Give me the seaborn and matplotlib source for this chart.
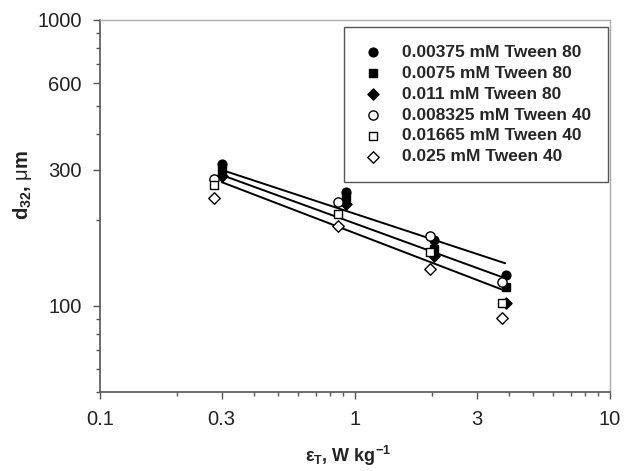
import matplotlib
matplotlib.use('Agg')
import matplotlib.pyplot as plt
import seaborn as sns
import pandas as pd

# energy dissipation rate, W/kg (closed = Tween 80, open = Tween 40)
eps_closed = [0.30, 0.92, 2.04, 3.92]
eps_open = [0.28, 0.86, 1.97, 3.77]

# Sauter mean diameter d32, um
d32_t80_a = [314, 250, 170, 128]   # 0.00375 mM Tween 80
d32_t80_b = [298, 240, 158, 116]   # 0.0075 mM Tween 80
d32_t80_c = [285, 228, 150, 102]   # 0.011 mM Tween 80
d32_t40_a = [277, 231, 175, 121]   # 0.008325 mM Tween 40
d32_t40_b = [265, 209, 154, 102]   # 0.01665 mM Tween 40
d32_t40_c = [238, 191, 135, 91]    # 0.025 mM Tween 40

# power-law fit lines
fit_x = [0.30, 3.88]
fit_top = [299, 141]
fit_mid = [287, 125]
fit_low = [271, 113]

sns.set_style('white')
plt.rcParams['font.family'] = ['Liberation Sans', 'DejaVu Sans']
plt.rcParams['mathtext.fontset'] = 'custom'
plt.rcParams['mathtext.rm'] = 'Liberation Sans'
plt.rcParams['mathtext.bf'] = 'Liberation Sans:bold'
plt.rcParams['mathtext.it'] = 'Liberation Sans:italic'

fig = plt.figure(figsize=(6.29, 4.71), dpi=100)
ax = fig.add_axes([100 / 629, 1 - 392 / 471, 510 / 629, 372 / 471])

for ys in (fit_top, fit_mid, fit_low):
    sns.lineplot(x=fit_x, y=ys, color='black', linewidth=1.4, ax=ax, zorder=2)

series = [
    ('0.00375 mM Tween 80', eps_closed, d32_t80_a, 'o', 'black', 40),
    ('0.0075 mM Tween 80', eps_closed, d32_t80_b, 's', 'black', 34),
    ('0.011 mM Tween 80', eps_closed, d32_t80_c, 'D', 'black', 32),
    ('0.008325 mM Tween 40', eps_open, d32_t40_a, 'o', 'white', 44),
    ('0.01665 mM Tween 40', eps_open, d32_t40_b, 's', 'white', 40),
    ('0.025 mM Tween 40', eps_open, d32_t40_c, 'D', 'white', 34),
]
for name, xs, ys, mk, fc, sz in series:
    df = pd.DataFrame({'eps': xs, 'd32': ys})
    sns.scatterplot(data=df, x='eps', y='d32', marker=mk, color=fc,
                    edgecolor='black', linewidth=1.0, s=sz, ax=ax,
                    label=name, zorder=3)

ax.set_xscale('log')
ax.set_yscale('log')
ax.set_xlim(0.1, 10)
ax.set_ylim(50, 1000)

ax.set_xticks([0.1, 0.3, 1, 3, 10])
ax.set_xticklabels(['0.1', '0.3', '1', '3', '10'])
ax.set_xticks([0.2, 0.4, 0.5, 0.6, 0.7, 0.8, 0.9, 2, 4, 5, 6, 7, 8, 9], minor=True)
ax.set_yticks([100, 300, 600, 1000])
ax.set_yticklabels(['100', '300', '600', '1000'])
ax.set_yticks([50, 60, 70, 80, 90, 200, 400, 500, 700, 800, 900], minor=True)
ax.tick_params(which='major', direction='out', length=5, width=1, color='#555555',
               labelsize=14.5, labelcolor='#222222', bottom=True, left=True, pad=8)
ax.tick_params(which='minor', direction='out', length=3, width=1, color='#555555',
               bottom=True, left=True)

for side in ('left', 'bottom'):
    ax.spines[side].set_color('#555555')
    ax.spines[side].set_linewidth(1.2)
for side in ('top', 'right'):
    ax.spines[side].set_color('#aaaaaa')
    ax.spines[side].set_linewidth(1.0)

ax.set_xlabel(r'$\mathbf{\varepsilon_T}$, W kg$^{\mathbf{-1}}$', fontsize=13,
              fontweight='bold', color='#222222')
ax.set_ylabel(r'$\mathbf{d_{32}}$, $\mathrm{\mu}$m', fontsize=14.5,
              fontweight='bold', color='#222222')
ax.xaxis.set_label_coords(0.486, -0.14)
ax.yaxis.set_label_coords(-0.13, 0.556)

leg = ax.legend(loc='upper right', bbox_to_anchor=(0.997, 0.98), frameon=True,
                fancybox=False, edgecolor='#555555', framealpha=1,
                prop={'weight': 'bold', 'size': 12.5}, labelspacing=0.33,
                handlelength=1.33, handletextpad=1.0, borderpad=1.0,
                borderaxespad=0)
leg.get_frame().set_linewidth(1.0)

fig.savefig('out.png', dpi=100)
